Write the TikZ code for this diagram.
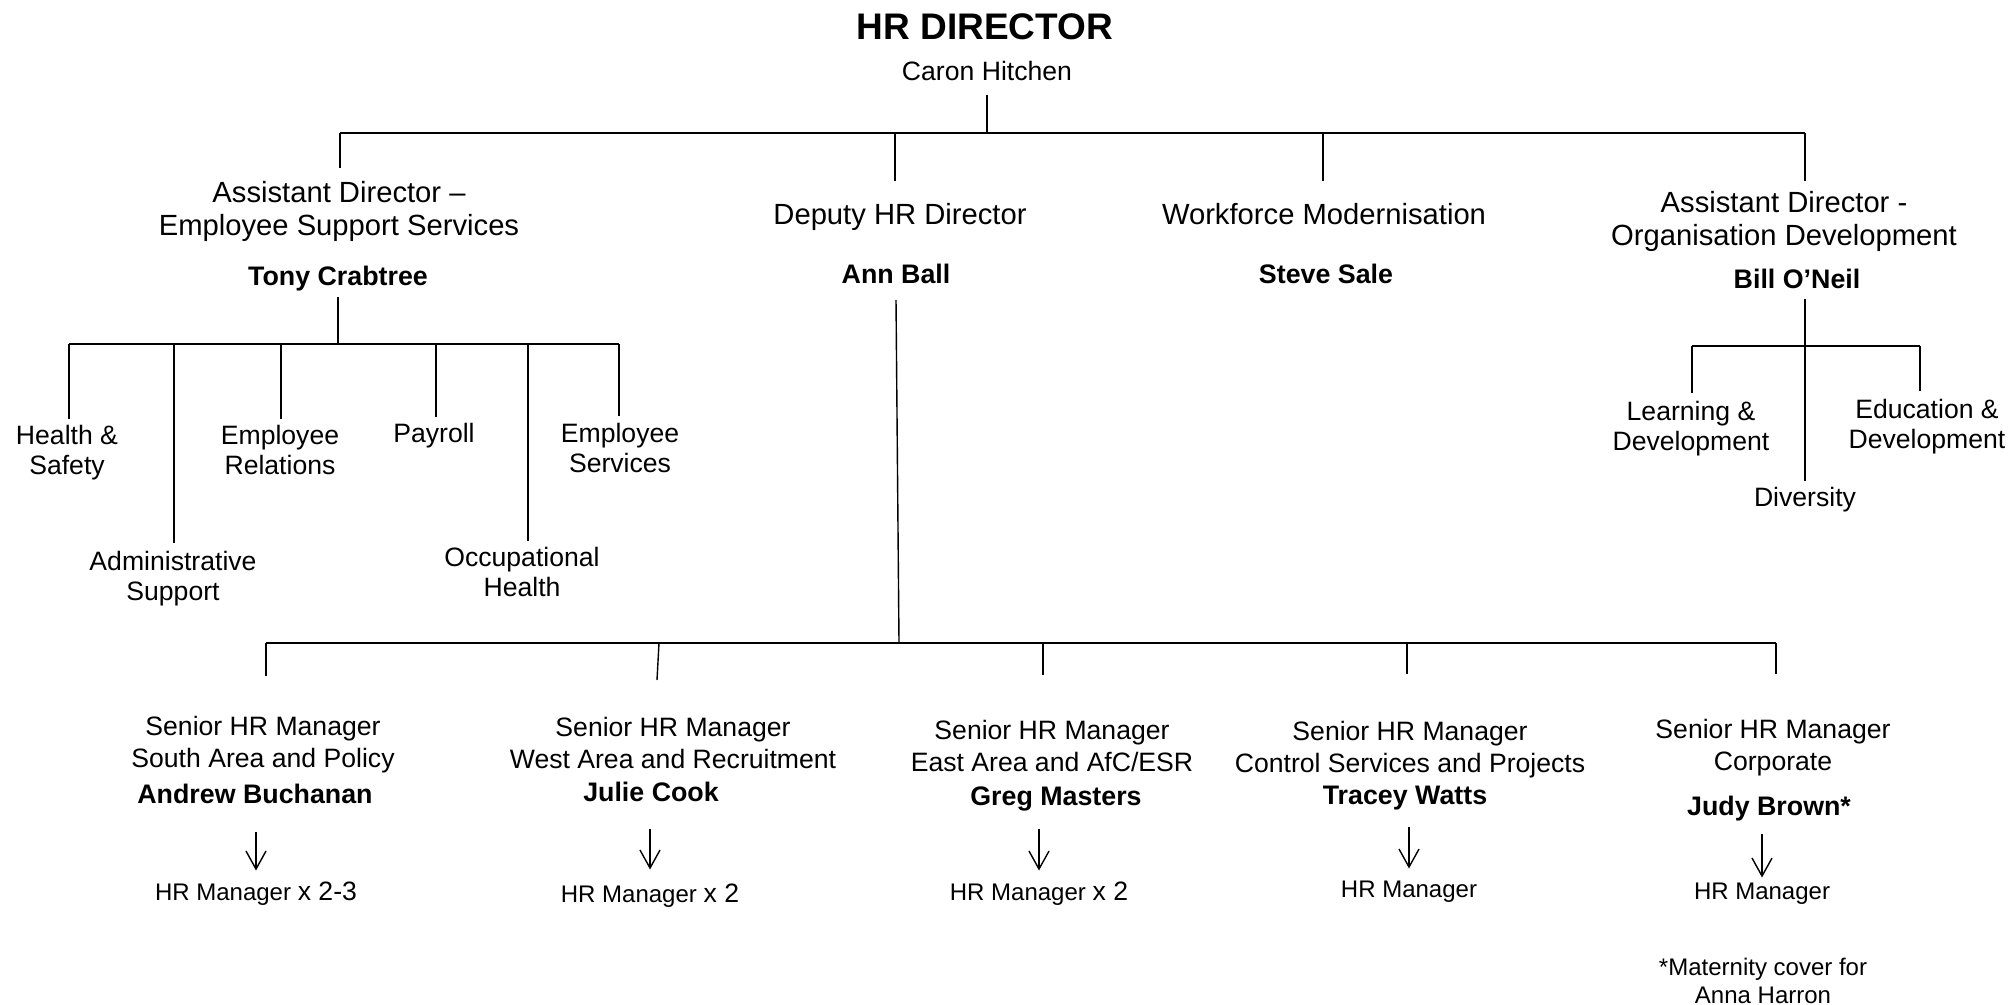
\documentclass[tikz,border=0pt]{standalone}
\usepackage{fontspec}
\setmainfont{Liberation Sans}
\usetikzlibrary{arrows.meta}

\newcommand\numsize{\fontsize{13.3}{15}\selectfont}

\begin{document}
\begin{tikzpicture}[x=0.5pt, y=-0.5pt,
  lbl/.style={inner sep=0pt, anchor=north, yshift=0.75pt, align=center, font=\fontsize{13.3}{15}\selectfont},
  head/.style={lbl, font=\fontsize{14.6}{16.7}\selectfont},
  snr/.style={lbl, font=\fontsize{13.3}{16}\selectfont},
  who/.style={inner sep=0pt, anchor=north, yshift=0.75pt, font=\bfseries\fontsize{13.4}{15}\selectfont},
  mgr/.style={inner sep=0pt, anchor=north, yshift=0.75pt, align=center, font=\fontsize{12}{14.5}\selectfont},
  bar/.style={line width=1.2pt},
  drop/.style={line width=0.7pt},
  down/.style={line width=0.7pt, -{Straight Barb[length=9pt,width=10pt]}}]

  \useasboundingbox (0,0) rectangle (2011,1005);

  \newcommand\YA{133}
  \newcommand\YB{344}
  \newcommand\YC{346}
  \newcommand\YD{643}

  % director
  \node[inner sep=0pt, anchor=north, yshift=0.75pt, font=\bfseries\fontsize{18.5}{20}\selectfont] (hrd) at (985,15) {HR DIRECTOR};
  \node[lbl] (caron) at (987,62) {Caron Hitchen};

  \coordinate (j0) at (987,\YA);
  \coordinate (j1) at (340,\YA);
  \coordinate (j2) at (895,\YA);
  \coordinate (j3) at (1323,\YA);
  \coordinate (j4) at (1805,\YA);

  \draw[drop] ([yshift=-7pt]caron.south) -- (j0);
  \draw[bar] (j1) -- (j4);

  % second level
  \node[head] (esd) at (339,182) {Assistant Director --\\Employee Support Services};
  \node[head] (dep) at (900,204) {Deputy HR Director};
  \node[head] (wfm) at (1324,204) {Workforce Modernisation};
  \node[head] (odv) at (1784,192) {Assistant Director -\\Organisation Development};

  \draw[drop] (j1) -- ([yshift=6pt]j1 |- esd.north);
  \draw[drop] (j2) -- ([yshift=10.5pt]j2 |- dep.north);
  \draw[drop] (j3) -- ([yshift=10.5pt]j3 |- wfm.north);
  \draw[drop] (j4) -- ([yshift=4.5pt]j4 |- odv.north);

  \node[who] (tony) at (338,267) {Tony Crabtree};
  \node[who] (ann) at (896,265) {Ann Ball};
  \node[who] (steve) at (1326,265) {Steve Sale};
  \node[who] (bill) at (1797,270) {Bill O'Neil};

  % employee support services
  \node[lbl] (hs) at (67,426) {Health \&\\Safety};
  \node[lbl] (adm) at (173,552) {Administrative\\Support};
  \node[lbl] (er) at (280,426) {Employee\\Relations};
  \node[lbl] (pay) at (434,424) {Payroll};
  \node[lbl] (oh) at (522,548) {Occupational\\Health};
  \node[lbl] (es) at (620,424) {Employee\\Services};

  \coordinate (t0) at (338,\YB);
  \coordinate (k1) at (69,\YB);
  \coordinate (k2) at (174,\YB);
  \coordinate (k3) at (281,\YB);
  \coordinate (k4) at (436,\YB);
  \coordinate (k5) at (528,\YB);
  \coordinate (k6) at (619,\YB);

  \draw[drop] ([yshift=-3pt]tony.south) -- (t0);
  \draw[bar] (k1) -- (k6);
  \draw[drop] (k1) -- ([yshift=3pt]k1 |- hs.north);
  \draw[drop] (k2) -- ([yshift=4pt]k2 |- adm.north);
  \draw[drop] (k3) -- ([yshift=3pt]k3 |- er.north);
  \draw[drop] (k4) -- ([yshift=3pt]k4 |- pay.north);
  \draw[drop] (k5) -- ([yshift=3pt]k5 |- oh.north);
  \draw[drop] (k6) -- ([yshift=3.5pt]k6 |- es.north);

  % organisation development
  \node[lbl] (ld) at (1691,402) {Learning \&\\Development};
  \node[lbl] (edu) at (1927,400) {Education \&\\Development};
  \node[lbl] (div) at (1805,488) {Diversity};

  \coordinate (b1) at (1692,\YC);
  \coordinate (b2) at (1920,\YC);

  \draw[drop] ([yshift=-5pt]bill.south -| div.north) -- ([yshift=3pt]div.north);
  \draw[bar] (b1) -- (b2);
  \draw[drop] (b1) -- ([yshift=4pt]b1 |- ld.north);
  \draw[drop] (b2) -- ([yshift=4pt]b2 |- edu.north);

  % senior hr managers
  \coordinate (a0) at (899,\YD);
  \coordinate (c1) at (266,\YD);
  \coordinate (c2) at (659,\YD);
  \coordinate (c3) at (1043,\YD);
  \coordinate (c4) at (1407,\YD);
  \coordinate (c5) at (1776,\YD);

  \draw[drop] ([yshift=-8pt]ann.south) -- (a0);
  \draw[bar] (c1) -- (c5);

  \node[snr] (s1) at (263,717) {Senior HR Manager\\South Area and Policy};
  \node[snr] (s2) at (673,718) {Senior HR Manager\\West Area and Recruitment};
  \node[snr] (s3) at (1052,721) {Senior HR Manager\\East Area and AfC/ESR};
  \node[snr] (s4) at (1410,722) {Senior HR Manager\\Control Services and Projects};
  \node[snr] (s5) at (1773,720) {Senior HR Manager\\Corporate};

  \draw[drop] (c1) -- ([yshift=19.75pt]c1 |- s1.north);
  \draw[drop] (c2) -- ([xshift=-1pt,yshift=18.25pt]c2 |- s2.north);
  \draw[drop] (c3) -- ([yshift=22.25pt]c3 |- s3.north);
  \draw[drop] (c4) -- ([yshift=23.25pt]c4 |- s4.north);
  \draw[drop] (c5) -- ([yshift=22.25pt]c5 |- s5.north);

  \node[who] (n1) at (255,785) {Andrew Buchanan};
  \node[who] (n2) at (651,783) {Julie Cook};
  \node[who] (n3) at (1056,788) {Greg Masters};
  \node[who] (n4) at (1405,787) {Tracey Watts};
  \node[who] (n5) at (1769,797) {Judy Brown*};

  \node[mgr] (m1) at (256,883) {HR Manager {\numsize x 2-3}};
  \node[mgr] (m2) at (650,885) {HR Manager {\numsize x 2}};
  \node[mgr] (m3) at (1039,883) {HR Manager {\numsize x 2}};
  \node[mgr] (m4) at (1409,882) {HR Manager};
  \node[mgr] (m5) at (1762,884) {HR Manager};

  \draw[down] ([yshift=-14pt]n1.south -| m1.north) -- ([yshift=5.5pt]m1.north);
  \draw[down] ([yshift=-13.5pt]n2.south -| m2.north) -- ([yshift=7pt]m2.north);
  \draw[down] ([yshift=-8.5pt]n3.south -| m3.north) -- ([yshift=5.5pt]m3.north);
  \draw[down] ([yshift=-8.5pt]n4.south -| m4.north) -- ([yshift=6pt]m4.north);
  \draw[down] ([yshift=-6.5pt]n5.south -| m5.north) -- ([yshift=2.5pt]m5.north);

  \node[mgr, font=\fontsize{12}{14.3}\selectfont] (note) at (1763,959) {*Maternity cover for\\Anna Harron};

\end{tikzpicture}
\end{document}
